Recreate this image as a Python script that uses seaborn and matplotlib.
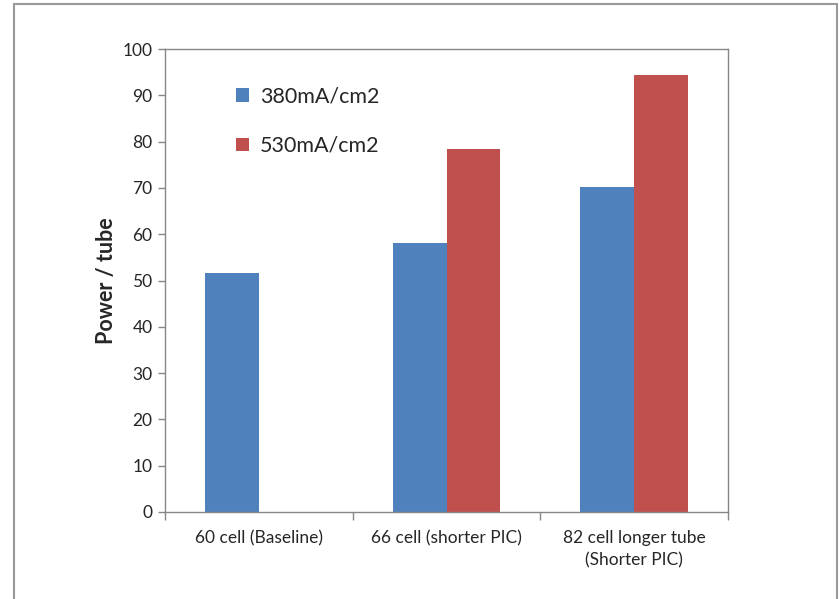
import matplotlib.pyplot as plt
import numpy as np
import pandas as pd
import seaborn as sns
from matplotlib.patches import Rectangle
from matplotlib.ticker import FixedLocator

sns.set_theme(style="white")
plt.rcParams["font.family"] = ["Lato", "DejaVu Sans"]

categories = ["60 cell (Baseline)", "66 cell (shorter PIC)", "82 cell longer tube\n(Shorter PIC)"]
series = ["380mA/cm2", "530mA/cm2"]
power_380 = [51.7, 58.2, 70.2]
power_530 = [np.nan, 78.5, 94.3]
colors = ["#4F81BD", "#C0504D"]

df = pd.DataFrame({
    "Config": categories * 2,
    "Density": [series[0]] * 3 + [series[1]] * 3,
    "Power": power_380 + power_530,
})

fig = plt.figure(figsize=(8.39, 5.99), dpi=100)
ax = fig.add_axes([165 / 839, 1 - 512 / 599, (728 - 165) / 839, (512 - 49) / 599])

sns.barplot(
    data=df, x="Config", y="Power", hue="Density", hue_order=series,
    order=categories, palette=colors, saturation=1, width=0.575,
    errorbar=None, linewidth=0, ax=ax,
)

grey = "#868686"
ax.set_ylim(0, 100)
ax.set_xlim(-0.5, 2.5)
ax.set_yticks(np.arange(0, 101, 10))
ax.tick_params(axis="y", direction="out", length=5, width=1, color=grey,
               pad=4, labelsize=12.5, left=True)
ax.tick_params(axis="x", which="major", length=0, pad=13, labelsize=12.5)
for lbl in ax.get_xticklabels():
    lbl.set_linespacing(1.45)
ax.xaxis.set_minor_locator(FixedLocator([-0.5, 0.5, 1.5, 2.5]))
ax.tick_params(axis="x", which="minor", direction="out", length=6, width=1,
               color=grey, bottom=True)
for side in ["left", "bottom", "top", "right"]:
    ax.spines[side].set_visible(True)
    ax.spines[side].set_color(grey)
    ax.spines[side].set_linewidth(1)

ax.set_xlabel("")
ax.set_ylabel("Power / tube", fontsize=15.5, fontweight="bold", labelpad=4)

ax.legend(
    loc="upper left", bbox_to_anchor=(0.092, 0.96), frameon=False,
    fontsize=15.5, handlelength=0.6, handleheight=0.6, handletextpad=0.5,
    labelspacing=1.35,
)

fig.patches.append(Rectangle(
    (14 / 839, -0.02), (837 - 14) / 839, 1 - 4 / 599 + 0.02,
    transform=fig.transFigure, fill=False, edgecolor="#9a9a9a", linewidth=1.5,
))

fig.savefig("out.png", dpi=100)
